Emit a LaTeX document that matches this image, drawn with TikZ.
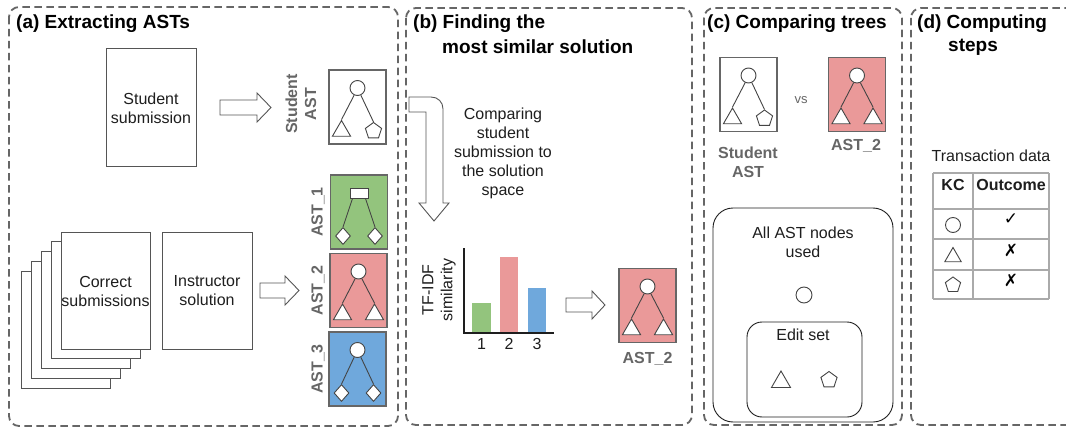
\documentclass[tikz,border=0pt]{standalone}
\usepackage{fontspec}
\setmainfont{Liberation Sans}
\newfontfamily\symfont{DejaVu Sans}
\usetikzlibrary{shapes.geometric}
\definecolor{gA}{HTML}{93C47D}
\definecolor{rA}{HTML}{EA9999}
\definecolor{bA}{HTML}{6FA8DC}
\definecolor{bord}{HTML}{666666}
\definecolor{lab}{HTML}{666666}
\definecolor{ink}{HTML}{1E1E1E}
\definecolor{tree}{HTML}{444444}
\definecolor{dk}{HTML}{555555}
\definecolor{gridc}{HTML}{AAAAAA}
\tikzset{
  panel/.style={draw=bord, line width=1.8pt, dash pattern=on 7.5pt off 4.5pt, rounded corners=10pt},
  ttl/.style={font=\fontsize{19}{22}\selectfont\bfseries, anchor=west, inner sep=0pt, text=black},
  body/.style={font=\fontsize{16}{19}\selectfont, text=ink, align=center, inner sep=0pt},
  glab/.style={font=\fontsize{16}{19}\selectfont\bfseries, text=lab, align=center, inner sep=0pt},
  docbox/.style={draw=dk, fill=white, line width=1pt, inner sep=0pt, minimum width=90pt, minimum height=117pt},
  astbox/.style={draw=bord, line width=1.2pt, minimum width=57pt, minimum height=74pt, inner sep=0pt},
  treeline/.style={draw=tree, line width=0.9pt},
  tcirc/.style={circle, draw=tree, fill=white, line width=0.9pt, minimum size=15pt, inner sep=0pt},
  trect/.style={rectangle, draw=tree, fill=white, line width=0.9pt, minimum width=18pt, minimum height=10pt, inner sep=0pt},
  ttri/.style={regular polygon, regular polygon sides=3, draw=tree, fill=white, line width=0.9pt, minimum size=21pt, inner sep=0pt},
  tpent/.style={regular polygon, regular polygon sides=5, draw=tree, fill=white, line width=0.9pt, minimum size=17pt, inner sep=0pt},
  tdia/.style={diamond, draw=tree, fill=white, line width=0.9pt, minimum width=15pt, minimum height=17pt, inner sep=0pt},
  barrow/.style={draw=dk, fill=white, line width=0.9pt, line join=miter},
  setbox/.style={draw=ink, line width=0.9pt, inner sep=0pt},
  gridline/.style={draw=gridc, line width=1.4pt},
  markc/.style={font=\symfont\bfseries\fontsize{17}{17}\selectfont, text=black, inner sep=0pt},
  pics/asticon/.style n args={6}{code={
    \node[astbox, fill=#1] (-box) at (0,0) {};
    \node[#2] (-root) at (0,-19) {};
    \node[#3] (-l) at (-16,24) {};
    \node[#4] (-r) at (16,24) {};
    \draw[treeline] (-root.#5) -- (-l.north);
    \draw[treeline] (-root.#6) -- (-r.north);
  }}
}
\begin{document}
\begin{tikzpicture}[x=1pt,y=-1pt]
\clip (0,0) rectangle (1066,428);
\fill[white] (0,0) rectangle (1066,428);

% panels
\draw[panel] (9,7) rectangle (398,426);
\draw[panel] (406,8) rectangle (692,425);
\draw[panel] (704,8) rectangle (902,425);
\draw[panel] (911,8) rectangle (1090,425);

% titles
\node[ttl] (ta) at (16,24) {(a) Extracting ASTs};
\node[ttl] (tb1) at (413,24) {(b) Finding the};
\node[ttl] (tb2) at (442,47) {most similar solution};
\node[ttl] (tc) at (707,24) {(c) Comparing trees};
\node[ttl] (td1) at (917,24) {(d) Computing};
\node[ttl] (td2) at (948,47) {steps};

% ---------- panel (a)
\node[docbox] (subm) at (151,107.5) {};
\node[body] (submt) at (151,108) {Student\\submission};
\draw[barrow] (220,100) -- (257,100) -- (257,93) -- (271,107.5) -- (257,122) -- (257,115) -- (220,115) -- cycle;
\node[glab, rotate=90] (salab) at (301,104) {Student\\AST};
\pic (sa) at (357.5,107) {asticon={white}{tcirc}{ttri}{tpent}{245}{295}};

\foreach \i in {4,3,2,1}{
  \node[docbox, minimum width=89pt] (sheet\i) at ({105.5-10*\i},{290.5+9.75*\i}) {};
}
\node[docbox, minimum width=89pt] (corr) at (105.5,290.5) {};
\node[body] (corrt) at (105.5,291) {Correct\\submissions};
\node[docbox] (instr) at (207,290.5) {};
\node[body] (instrt) at (207,291) {Instructor\\solution};
\draw[barrow] (260,283) -- (285,283) -- (285,276) -- (299,290.5) -- (285,305) -- (285,298) -- (260,298) -- cycle;

\pic (a1) at (359,212) {asticon={gA}{trect}{tdia}{tdia}{220}{320}};
\pic (a2) at (358.5,290.5) {asticon={rA}{tcirc}{ttri}{ttri}{245}{295}};
\pic (a3) at (357.5,369) {asticon={bA}{tcirc}{tdia}{tdia}{245}{295}};
\node[glab, rotate=90] (l1) at (318,212) {AST\_1};
\node[glab, rotate=90] (l2) at (318,290.5) {AST\_2};
\node[glab, rotate=90] (l3) at (318,369) {AST\_3};

% ---------- panel (b)
\draw[barrow] (409,97) -- (431,97) .. controls (438,97) and (443,102) .. (443,109) -- (443,203) -- (449,203) -- (434,221) -- (419,203) -- (426,203) -- (426,112) -- (409,112) -- cycle;
\node[body] (cmp) at (503,153) {Comparing\\student\\submission to\\the solution\\space};

\fill[gA] (472,303) rectangle (491,333);
\fill[rA] (500,257) rectangle (518,333);
\fill[bA] (528,288) rectangle (546,333);
\draw[draw=ink, line width=1.4pt] (464,248) -- (464,333) -- (554,333);
\node[body] (x1) at (481.5,344) {1};
\node[body] (x2) at (509,344) {2};
\node[body] (x3) at (537,344) {3};
\node[body, rotate=90] (ylab) at (439,290) {TF-IDF\\similarity};

\draw[barrow] (566,298) -- (592,298) -- (592,291) -- (605,305) -- (592,319) -- (592,312) -- (566,312) -- cycle;
\pic (b2) at (647.5,305.5) {asticon={rA}{tcirc}{ttri}{ttri}{245}{295}};
\node[glab] (b2lab) at (647.5,359) {AST\_2};

% ---------- panel (c)
\pic (cs) at (748.5,94.5) {asticon={white}{tcirc}{ttri}{tpent}{245}{295}};
\pic (c2) at (857,94.5) {asticon={rA}{tcirc}{ttri}{ttri}{245}{295}};
\node[font=\fontsize{13}{15}\selectfont, text=lab, inner sep=0pt] (vs) at (801,100) {vs};
\node[glab] (cslab) at (748,162) {Student\\AST};
\node[glab] (c2lab) at (856,146) {AST\_2};

\draw[setbox, rounded corners=20pt] (713,208) rectangle (893,422);
\node[body] (allt) at (803,242) {All AST nodes\\used};
\node[tcirc, minimum size=16pt] (allc) at (804,295) {};
\draw[setbox, rounded corners=15pt] (747,322) rectangle (862,417);
\node[body] (editt) at (803,335) {Edit set};
\node[ttri, minimum size=22pt] (edtri) at (781,382) {};
\node[tpent] (edpent) at (829,380) {};

% ---------- panel (d)
\node[body] (trans) at (991,156) {Transaction data};
\foreach \yy in {173,209,239,270,299} \draw[gridline] (933,\yy) -- (1049,\yy);
\foreach \xx in {933,973,1049} \draw[gridline] (\xx,173) -- (\xx,299);
\node[body, font=\fontsize{16}{19}\selectfont\bfseries] (kch) at (953,185) {KC};
\node[body, font=\fontsize{16}{19}\selectfont\bfseries] (outh) at (1011,185) {Outcome};
\node[tcirc, minimum size=15pt] (kc1) at (953,225) {};
\node[ttri, minimum size=19pt] (kc2) at (953,257) {};
\node[tpent, minimum size=16pt] (kc3) at (953,285) {};
\node[markc] (o1) at (1011,219) {✓};
\node[markc] (o2) at (1011,250) {✗};
\node[markc] (o3) at (1011,280) {✗};
\end{tikzpicture}
\end{document}
